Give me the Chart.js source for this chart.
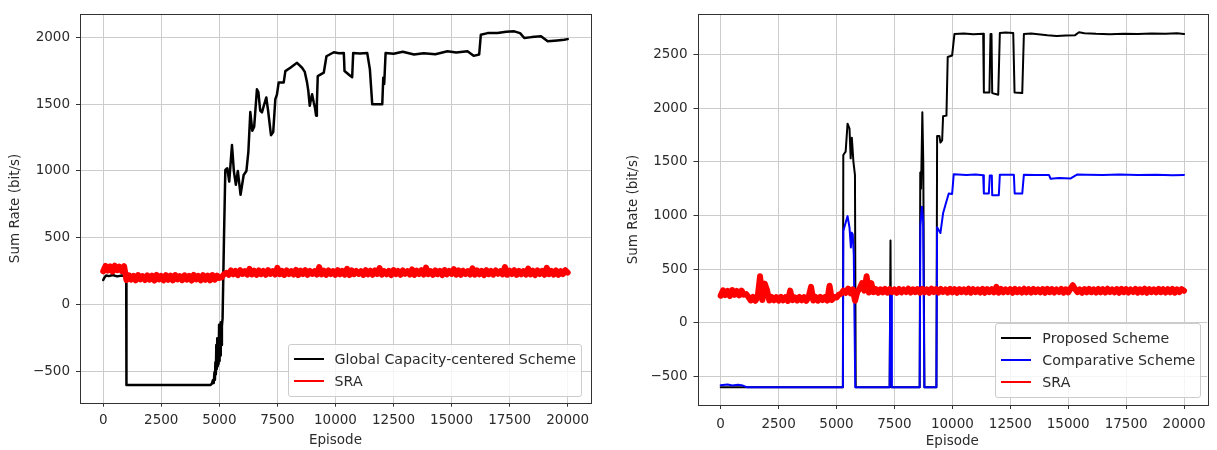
<!DOCTYPE html>
<html>
<head>
<meta charset="utf-8">
<script src="https://cdn.jsdelivr.net/npm/chart.js@4.4.1/dist/chart.umd.min.js"></script>
<style>
  html, body { margin: 0; padding: 0; background: #fff; }
  #wrap { position: relative; width: 1217px; height: 450px; overflow: hidden; }
  .panel { position: absolute; top: 0; height: 450px; }
  .panel canvas { display: block; }
  .legend {
    position: absolute;
    background: rgba(255, 255, 255, 0.8);
    border: 1px solid #cccccc;
    border-radius: 3px;
    padding: 3px 5px 4px 5px;
    font-family: 'DejaVu Sans';
    font-size: 14.2px;
    color: #2b2b2b;
  }
  .legend .row { display: flex; align-items: center; height: 22px; white-space: nowrap; }
  .legend .swatch { width: 30px; height: 2px; margin-right: 11px; }
</style>
</head>
<body>
<div id="wrap">
  <div class="panel" style="left:0;width:600px;">
    <canvas id="leftChart" width="600" height="450"></canvas>
    <div class="legend" id="leftLegend"></div>
  </div>
  <div class="panel" style="left:607px;width:610px;">
    <canvas id="rightChart" width="610" height="450"></canvas>
    <div class="legend" id="rightLegend"></div>
  </div>
</div>
<script>
// ---- tick labels ----
const xTicks = [0, 2500, 5000, 7500, 10000, 12500, 15000, 17500, 20000];
const leftYTicks = [-500, 0, 500, 1000, 1500, 2000];
const rightYTicks = [-500, 0, 500, 1000, 1500, 2000, 2500];

const SRA_STEP = 100;

// ---- left panel: Global Capacity-centered Scheme vs SRA ----
const gcsEpisodes = [0, 40, 120, 250, 400, 600, 800, 990, 1000, 2500, 4000, 4610, 4680, 4720, 4760, 4790,
  4810, 4830, 4850, 4870, 4890, 4910, 4930, 4950, 4970, 4990, 5010, 5030, 5050, 5070, 5090, 5110, 5140,
  5200, 5258, 5342, 5426, 5544, 5628, 5712, 5796, 5914, 6048, 6166, 6250, 6334, 6420, 6500, 6619, 6680,
  6760, 6835, 6920, 7022, 7100, 7224, 7320, 7411, 7480, 7555, 7771, 7843, 8058, 8200, 8346, 8562, 8680,
  8778, 8830, 8893, 8950, 8994, 9066, 9120, 9166, 9200, 9238, 9497, 9613, 9929, 10150, 10361, 10390,
  10649, 10720, 10764, 11050, 11368, 11483, 11584, 12016, 12059, 12100, 12160, 12500, 12900, 13383,
  13800, 14300, 14822, 15200, 15685, 15950, 16189, 16261, 16550, 16980, 17350, 17700, 17950, 18131,
  18450, 18851, 19139, 19550, 19850, 20000];
const gcsRate = [185, 200, 218, 214, 222, 212, 219, 210, -600, -600, -600, -600, -590, -565, -585, -505,
  -560, -430, -520, -300, -480, -250, -460, -350, -440, -150, -420, -200, -380, -130, -300, -160, -100,
  500, 1007, 1020, 920, 1193, 995, 896, 1000, 822, 970, 1000, 1143, 1440, 1300, 1330, 1610, 1590,
  1450, 1437, 1490, 1549, 1450, 1267, 1290, 1536, 1570, 1660, 1660, 1746, 1771, 1790, 1808, 1771, 1740,
  1660, 1600, 1487, 1540, 1573, 1511, 1470, 1413, 1500, 1709, 1734, 1857, 1887, 1880, 1882, 1747,
  1709, 1700, 1882, 1878, 1882, 1759, 1498, 1498, 1697, 1650, 1882, 1875, 1890, 1870,
  1880, 1872, 1895, 1885, 1895, 1860, 1870, 2018, 2030, 2030, 2040, 2043, 2030, 1993,
  2000, 2006, 1969, 1975, 1980, 1985];
const sraLeftRate = [
  250, 290, 255, 286, 248, 292, 258, 284, 252, 288,
  184, 220, 188, 216, 182, 222, 190, 214, 185, 219,
  187, 217, 181, 223, 189, 215, 183, 221, 186, 218,
  182, 222, 190, 214, 184, 220, 188, 216, 181, 223,
  189, 215, 183, 221, 186, 218, 182, 222, 187, 217,
  200, 205, 228, 238,
  224, 256, 228, 253, 222, 258, 230, 251, 225, 268,
  227, 254, 223, 257, 229, 252, 224, 259, 231, 250,
  225, 276, 228, 253, 223, 256, 230, 251, 226, 261,
  222, 255, 229, 258, 224, 252, 231, 250, 225, 281,
  227, 254, 223, 257, 230, 251, 224, 259, 228, 253,
  225, 268, 222, 256, 229, 252, 231, 250, 223, 258,
  227, 254, 224, 257, 230, 274, 225, 251, 228, 253,
  222, 259, 229, 252, 224, 256, 231, 250, 226, 264,
  223, 255, 230, 258, 225, 278, 228, 251, 224, 257,
  229, 253, 222, 259, 227, 252, 231, 266, 225, 256,
  223, 254, 230, 251, 226, 272, 224, 257, 228, 253,
  222, 258, 229, 252, 225, 256, 231, 250, 227, 282,
  224, 255, 230, 258, 223, 253, 228, 251, 225, 270,
  227, 254, 222, 257, 230, 252, 224, 276, 229, 253,
  226, 256, 223, 251, 230, 258, 240];

// ---- right panel: Proposed vs Comparative vs SRA ----
const proposedEpisodes = [0, 2000, 5276, 5293, 5394, 5477, 5561, 5611, 5662, 5729, 5796, 5830, 7293, 7330,
  7360, 8590, 8615, 8650, 8705, 8745, 8793, 9312, 9342, 9440, 9485, 9560, 9600, 9745, 9800, 9990, 10090,
  10500, 10900, 11331, 11360, 11600, 11647, 11690, 11720, 11980, 12050, 12300, 12628, 12685, 13017,
  13088, 13400, 13800, 14100, 14500, 14900, 15300, 15466, 15700, 16200, 16800, 17400, 18000, 18600,
  19200, 19700, 20000];
const proposedRate = [-600, -600, -600, 1563, 1594, 1855, 1809, 1532, 1723, 1502, 1378, -600, -600, 766,
  -600, -600, 1400, 1250, 1961, 1500, -600, -600, 1740, 1740, 1679, 1700, 1924, 1930, 2476, 2490, 2690,
  2695, 2688, 2692, 2145, 2145, 2690, 2690, 2140, 2125, 2700, 2705, 2700, 2145, 2140,
  2690, 2695, 2685, 2678, 2672, 2676, 2680, 2707, 2698, 2692, 2688, 2694, 2690, 2696,
  2692, 2698, 2690];
const comparativeEpisodes = [0, 300, 500, 750, 960, 1124, 3000, 5276, 5293, 5477, 5561, 5620, 5662, 5700,
  5745, 5809, 7293, 7320, 7360, 7390, 8590, 8620, 8686, 8740, 8793, 9312, 9342, 9485, 9600, 9700, 9845,
  9990, 10060, 10600, 11000, 11331, 11360, 11574, 11617, 11704, 11720, 12006, 12050, 12656, 12690,
  13017, 13088, 13600, 14170, 14240, 14600, 15108, 15397, 15800, 16500, 17200, 18000, 18800, 19500, 20000];
const comparativeRate = [-582, -575, -585, -578, -585, -600, -600, -600, 855, 994, 886, 702, 840, 825,
  640, -600, -600, 300, 300, -600, -600, 900, 1082, 950, -600, -600, 889, 836, 1020, 1097, 1204,
  1200, 1385, 1378, 1382, 1375, 1204, 1204, 1373, 1373, 1189, 1189, 1380, 1380, 1204,
  1204, 1380, 1376, 1378, 1342, 1348, 1345, 1382, 1380, 1376, 1382, 1377, 1380, 1375, 1378];
const sraRightRate = [
  252, 302, 258, 298, 250, 304, 260, 296, 255, 300,
  262, 268, 240,
  208, 240, 205, 243, 433, 212, 365, 305, 207, 241,
  210, 238, 206, 242, 209, 239, 204, 300, 211, 237,
  207, 241, 210, 238, 205, 243, 335, 208, 240, 206,
  242, 211, 238, 207, 345, 212, 240,
  235, 262, 270,
  300, 278, 318, 275, 312, 205,
  290, 320, 370, 300, 433,
  282, 370, 285, 314, 280, 312, 284, 316, 281, 313,
  286, 311, 280, 315, 283, 310, 287, 317, 282, 312,
  285, 314, 281, 316, 284, 311, 280, 318, 286, 313,
  282, 315, 287, 310, 281, 316, 284, 312, 280, 314,
  286, 311, 283, 317, 281, 313, 285, 310, 282, 316,
  280, 314, 286, 312, 283, 335, 281, 315, 284, 311,
  287, 313, 280, 316, 285, 310, 282, 317, 284, 312,
  281, 315, 286, 311, 283, 314, 280, 316, 285, 313,
  282, 310, 287, 315, 281, 312, 284, 317, 350, 313,
  286, 311, 280, 314, 283, 316, 285, 310, 282, 315,
  284, 312, 281, 317, 286, 311, 283, 314, 280, 316,
  285, 313, 282, 310, 287, 315, 281, 312, 284, 317,
  280, 314, 286, 311, 283, 316, 285, 312, 282, 313,
  284, 315, 281, 311, 286, 313, 298];

// ---- helpers ----
const GRID = '#cccccc';
const AXIS = '#333333';
const TEXT = '#2b2b2b';

Chart.defaults.font.family = 'DejaVu Sans';
Chart.defaults.font.size = 13.5;
Chart.defaults.color = TEXT;

function pairs(xs, ys) {
  return xs.map((x, i) => ({ x: x, y: ys[i] }));
}
function sampled(ys) {
  return ys.map((y, i) => ({ x: i * SRA_STEP, y: y }));
}
function fmt(v) {
  return v < 0 ? '\u2212' + Math.abs(v) : String(v);
}
function line(label, color, data, order, width) {
  return {
    label: label, data: data, order: order,
    borderColor: color, backgroundColor: color,
    borderWidth: width, pointRadius: 0, tension: 0, fill: false,
    borderJoinStyle: 'round', borderCapStyle: 'round',
  };
}

// matplotlib style box around the axes
const framePlugin = {
  id: 'frame',
  afterDraw(chart) {
    const a = chart.chartArea;
    const ctx = chart.ctx;
    ctx.save();
    ctx.strokeStyle = AXIS;
    ctx.lineWidth = 1;
    ctx.strokeRect(Math.round(a.left) + 0.5, Math.round(a.top) + 0.5,
      Math.round(a.right - a.left), Math.round(a.bottom - a.top));
    ctx.restore();
  }
};

function buildLegend(chart, el, gapRight, gapBottom) {
  chart.data.datasets.forEach(ds => {
    const row = document.createElement('div');
    row.className = 'row';
    const sw = document.createElement('span');
    sw.className = 'swatch';
    sw.style.background = ds.borderColor;
    const txt = document.createElement('span');
    txt.textContent = ds.label;
    row.appendChild(sw);
    row.appendChild(txt);
    el.appendChild(row);
  });
  const a = chart.chartArea;
  el.style.right = (chart.width - a.right + gapRight) + 'px';
  el.style.bottom = (chart.height - a.bottom + gapBottom) + 'px';
}

function draw(canvasId, legendId, datasets, yRange, yTicks, L) {
  const ctx = document.getElementById(canvasId).getContext('2d');
  const chart = new Chart(ctx, {
    type: 'line',
    data: { datasets: datasets },
    plugins: [framePlugin],
    options: {
      animation: false,
      responsive: false,
      events: [],
      layout: { padding: { top: L.top, right: L.right, left: 0, bottom: 0 } },
      plugins: { legend: { display: false }, tooltip: { enabled: false } },
      scales: {
        x: {
          type: 'linear', min: -1000, max: 21000,
          afterBuildTicks: s => { s.ticks = xTicks.map(v => ({ value: v })); },
          afterFit: s => { s.height = L.xHeight; },
          border: { display: false },
          grid: { color: GRID, lineWidth: 1, drawTicks: true, tickLength: 4, tickColor: AXIS },
          ticks: { padding: L.xPad, autoSkip: false, maxRotation: 0, callback: fmt },
          title: { display: true, text: 'Episode', padding: { top: 0, bottom: L.xTitlePad } },
        },
        y: {
          type: 'linear', min: yRange[0], max: yRange[1],
          afterBuildTicks: s => { s.ticks = yTicks.map(v => ({ value: v })); },
          afterFit: s => { s.width = L.yWidth; },
          border: { display: false },
          grid: { color: GRID, lineWidth: 1, drawTicks: true, tickLength: 4, tickColor: AXIS },
          ticks: { padding: 6, autoSkip: false, callback: fmt },
          title: { display: true, text: 'Sum Rate (bit/s)', padding: { top: L.yTitlePad, bottom: 0 } },
        },
      },
    },
  });
  buildLegend(chart, document.getElementById(legendId), L.legendRight, L.legendBottom);
  return chart;
}

draw('leftChart', 'leftLegend', [
  line('Global Capacity-centered Scheme', '#000000', pairs(gcsEpisodes, gcsRate), 2, 2.5),
  line('SRA', '#ff0000', sampled(sraLeftRate), 1, 6),
], [-732, 2172], leftYTicks,
  { top: 9.3, right: 9.1, yWidth: 80, xHeight: 47.3, xPad: 6, xTitlePad: 1.5, yTitlePad: 7.5,
    legendRight: 9, legendBottom: 6 });

draw('rightChart', 'rightLegend', [
  line('Proposed Scheme', '#000000', pairs(proposedEpisodes, proposedRate), 3, 2),
  line('Comparative Scheme', '#0000ff', pairs(comparativeEpisodes, comparativeRate), 2, 2),
  line('SRA', '#ff0000', sampled(sraRightRate), 1, 6),
], [-766, 2876], rightYTicks,
  { top: 11.7, right: 9.8, yWidth: 90.5, xHeight: 45, xPad: 7, xTitlePad: 0, yTitlePad: 18.4,
    legendRight: 6, legendBottom: 7 });
</script>
</body>
</html>
